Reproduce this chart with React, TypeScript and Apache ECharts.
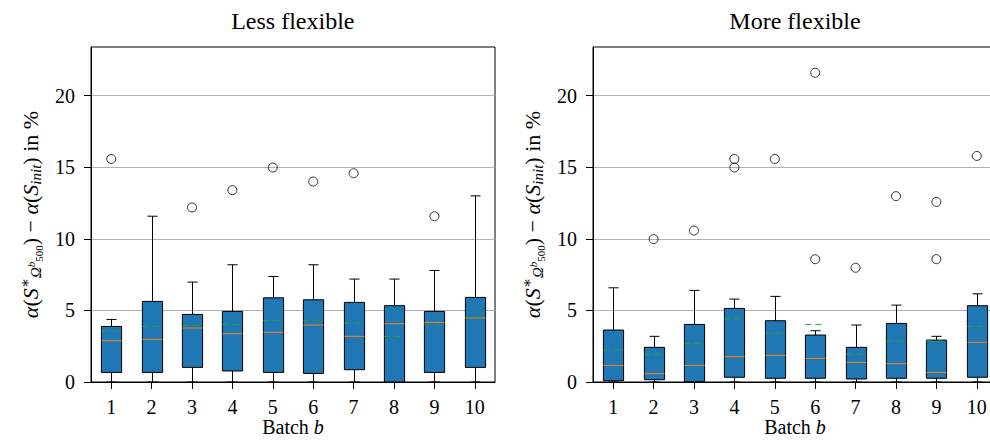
import React, { useEffect, useRef } from "react";
import * as echarts from "echarts";

const categories = ["1", "2", "3", "4", "5", "6", "7", "8", "9", "10"];
const yTicks = [0, 5, 10, 15, 20];

// Less flexible
const lessLow = [0, 0, 0, 0, 0, 0, 0, 0, 0, 0];
const lessQ1 = [0.67, 0.67, 1.02, 0.77, 0.67, 0.6, 0.86, 0.0, 0.67, 1.02];
const lessMedian = [2.88, 2.98, 3.77, 3.37, 3.47, 3.98, 3.19, 4.07, 4.16, 4.47];
const lessQ3 = [3.88, 5.63, 4.72, 4.93, 5.88, 5.74, 5.56, 5.33, 4.93, 5.91];
const lessHigh = [4.37, 11.58, 6.98, 8.19, 7.37, 8.19, 7.19, 7.19, 7.79, 13.0];
const lessMean = [3.56, 3.88, 3.95, 4.02, 4.3, 4.3, 4.12, 3.19, 3.98, 4.53];
const lessOutliers: [number, number][] = [
  [0, 15.58], [2, 12.19], [3, 13.4], [4, 14.98], [5, 14.0], [6, 14.58], [8, 11.58],
];

// More flexible
const moreLow = [0, 0, 0, 0, 0, 0, 0, 0, 0, 0];
const moreQ1 = [0.09, 0.16, 0.02, 0.33, 0.26, 0.26, 0.21, 0.26, 0.26, 0.33];
const moreMedian = [1.16, 0.58, 1.16, 1.77, 1.86, 1.65, 1.37, 1.28, 0.67, 2.77];
const moreQ3 = [3.63, 2.42, 4.02, 5.14, 4.28, 3.28, 2.42, 4.09, 2.93, 5.33];
const moreHigh = [6.58, 3.19, 6.4, 5.79, 5.98, 3.58, 3.98, 5.37, 3.19, 6.16];
const moreMean = [2.23, 1.95, 2.67, 4.4, 3.4, 4.02, 1.95, 2.86, 2.86, 3.88];
const moreOutliers: [number, number][] = [
  [1, 9.98], [2, 10.58], [3, 15.58], [3, 14.98], [4, 15.58], [5, 21.6], [5, 8.58],
  [6, 7.98], [7, 12.98], [8, 12.58], [8, 8.58], [9, 15.79],
];

const FONT = '"Liberation Serif", "DejaVu Serif", serif';

function buildRows(low: number[], q1: number[], med: number[], q3: number[], high: number[], mean: number[]) {
  return categories.map((_, i) => [i, low[i], q1[i], med[i], q3[i], high[i], mean[i]]);
}

const renderBox = (params: any, api: any) => {
  const idx = api.value(0);
  const lo = api.coord([idx, api.value(1)]);
  const q1 = api.coord([idx, api.value(2)]);
  const med = api.coord([idx, api.value(3)]);
  const q3 = api.coord([idx, api.value(4)]);
  const hi = api.coord([idx, api.value(5)]);
  const mean = api.coord([idx, api.value(6)]);
  const band = api.size([1, 0])[0];
  const bw = band * 0.5;
  const cw = bw * 0.5;
  const cx = Math.round(lo[0]) + 0.5;
  const L = cx - bw / 2;
  const R = cx + bw / 2;
  const blk = { stroke: "#000", lineWidth: 1 };
  return {
    type: "group",
    children: [
      { type: "line", shape: { x1: cx, y1: q3[1], x2: cx, y2: hi[1] }, style: blk },
      { type: "line", shape: { x1: cx, y1: q1[1], x2: cx, y2: lo[1] }, style: blk },
      { type: "line", shape: { x1: cx - cw / 2, y1: hi[1], x2: cx + cw / 2, y2: hi[1] }, style: blk },
      { type: "line", shape: { x1: cx - cw / 2, y1: lo[1], x2: cx + cw / 2, y2: lo[1] }, style: blk },
      {
        type: "rect",
        shape: { x: L, y: q3[1], width: bw, height: q1[1] - q3[1] },
        style: { fill: "#1f77b4", stroke: "#000", lineWidth: 1 },
      },
      { type: "line", shape: { x1: L, y1: med[1], x2: R, y2: med[1] }, style: { stroke: "#ff7f0e", lineWidth: 1 } },
      {
        type: "line",
        shape: { x1: L, y1: mean[1], x2: R, y2: mean[1] },
        style: { stroke: "#2ca02c", lineWidth: 1, lineDash: [6, 4] },
      },
    ],
  };
};

const yName =
  "{i|α}{m|(}{i|S}{sup|∗}{sub|Ω}{sub2sup|b}{sub2|500}{m|) − }{i|α}{m|(}{i|S}{sub|init}{m|) in %}";

const yNameStyle = {
  fontFamily: FONT,
  color: "#000",
  rich: {
    m: { fontSize: 22, fontFamily: FONT, color: "#000" },
    i: { fontSize: 22, fontFamily: FONT, fontStyle: "italic", color: "#000" },
    sup: { fontSize: 15, fontFamily: FONT, color: "#000", padding: [0, 0, 11, 0] },
    sub: { fontSize: 15, fontFamily: FONT, fontStyle: "italic", color: "#000", padding: [11, 0, 0, 0] },
    sub2sup: { fontSize: 11, fontFamily: FONT, fontStyle: "italic", color: "#000", padding: [2, 0, 0, 0] },
    sub2: { fontSize: 11, fontFamily: FONT, color: "#000", padding: [17, 0, 0, 0] },
  },
};

function makeXAxis(gridIndex: number) {
  return {
    type: "category",
    gridIndex,
    data: categories,
    boundaryGap: true,
    axisLine: { show: true, lineStyle: { color: "#000", width: 1 } },
    axisTick: { show: true, alignWithLabel: true, interval: 0, length: 7, lineStyle: { color: "#000", width: 1 } },
    axisLabel: { interval: 0, fontSize: 20, fontFamily: FONT, color: "#000", margin: 15 },
    splitLine: { show: false },
    name: "{r|Batch }{i|b}",
    nameLocation: "middle",
    nameGap: 37,
    nameMoveOverlap: false,
    nameTextStyle: {
      lineHeight: 16,
      rich: {
        r: { fontSize: 20, lineHeight: 16, fontFamily: FONT, color: "#000" },
        i: { fontSize: 20, lineHeight: 16, fontFamily: FONT, fontStyle: "italic", color: "#000" },
      },
    },
  };
}

function makeYAxis(gridIndex: number) {
  return {
    type: "value",
    gridIndex,
    min: 0,
    max: 23.4,
    interval: 5,
    axisLine: { show: true, lineStyle: { color: "#000", width: 1 } },
    axisTick: { show: true, length: 7, lineStyle: { color: "#000", width: 1 }, customValues: yTicks },
    axisLabel: { fontSize: 20, fontFamily: FONT, color: "#000", margin: 16, customValues: yTicks },
    splitLine: { show: true, lineStyle: { color: "#b0b0b0", width: 1 } },
    name: yName,
    nameLocation: "middle",
    nameRotate: 90,
    nameGap: 47,
    nameMoveOverlap: false,
    nameTextStyle: yNameStyle,
  };
}

export default function App() {
  const ref = useRef<HTMLDivElement>(null);
  useEffect(() => {
    if (!ref.current) return;
    const chart = echarts.init(ref.current, null, { renderer: "svg" });
    const option: any = {
      animation: false,
      backgroundColor: "#fff",
      grid: [
        {
          left: 91, right: 495, top: 47, bottom: 58, show: true, borderColor: "#000", borderWidth: 1,
          backgroundColor: "transparent", containLabel: false, outerBoundsMode: "none",
        },
        {
          left: 593, right: -7, top: 47, bottom: 58, show: true, borderColor: "#000", borderWidth: 1,
          backgroundColor: "transparent", containLabel: false, outerBoundsMode: "none",
        },
      ],
      xAxis: [makeXAxis(0), makeXAxis(1)],
      yAxis: [makeYAxis(0), makeYAxis(1)],
      graphic: [
        {
          type: "text",
          x: 292.8,
          y: 21,
          style: { text: "Less flexible", font: `24px ${FONT}`, fill: "#000", textAlign: "center", textVerticalAlign: "middle" },
        },
        {
          type: "text",
          x: 795,
          y: 21,
          style: { text: "More flexible", font: `24px ${FONT}`, fill: "#000", textAlign: "center", textVerticalAlign: "middle" },
        },
      ],
      series: [
        {
          type: "custom",
          xAxisIndex: 0,
          yAxisIndex: 0,
          renderItem: renderBox,
          encode: { x: 0, y: [1, 2, 3, 4, 5, 6] },
          data: buildRows(lessLow, lessQ1, lessMedian, lessQ3, lessHigh, lessMean),
        },
        {
          type: "scatter",
          xAxisIndex: 0,
          yAxisIndex: 0,
          symbol: "circle",
          symbolSize: 9,
          itemStyle: { color: "rgba(255,255,255,0)", borderColor: "#000", borderWidth: 1 },
          data: lessOutliers,
        },
        {
          type: "custom",
          xAxisIndex: 1,
          yAxisIndex: 1,
          renderItem: renderBox,
          encode: { x: 0, y: [1, 2, 3, 4, 5, 6] },
          data: buildRows(moreLow, moreQ1, moreMedian, moreQ3, moreHigh, moreMean),
        },
        {
          type: "scatter",
          xAxisIndex: 1,
          yAxisIndex: 1,
          symbol: "circle",
          symbolSize: 9,
          itemStyle: { color: "rgba(255,255,255,0)", borderColor: "#000", borderWidth: 1 },
          data: moreOutliers,
        },
      ],
    };
    chart.setOption(option);
    return () => chart.dispose();
  }, []);
  return <div ref={ref} style={{ position: "fixed", left: 0, top: 0, width: 990, height: 440 }} />;
}
